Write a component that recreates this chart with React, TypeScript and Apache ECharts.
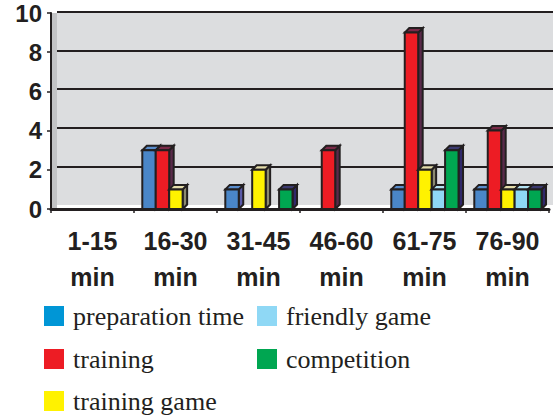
import { useEffect, useRef } from "react";
import * as echarts from "echarts";

// Time windows on the x axis
const categories = ["1-15\nmin", "16-30\nmin", "31-45\nmin", "46-60\nmin", "61-75\nmin", "76-90\nmin"];

// Series names, in bar order within a group
const seriesNames = ["preparation time", "training", "training game", "friendly game", "competition"];

// Counts per time window
const preparationTime = [0, 3, 1, 0, 1, 1];
const training = [0, 3, 0, 3, 9, 4];
const trainingGame = [0, 1, 2, 0, 2, 1];
const friendlyGame = [0, 0, 0, 0, 1, 1];
const competition = [0, 0, 1, 0, 3, 1];

const seriesValues = [preparationTime, training, trainingGame, friendlyGame, competition];

// Y axis range
const yMin = 0;
const yMax = 10;
const yStep = 2;

// Bar faces: front, top, right side
const faces = [
  { front: "#4a86c8", top: "#5a8dcc", side: "#5a5aa8" },
  { front: "#ed1c24", top: "#7a2a48", side: "#5a2a4a" },
  { front: "#fff200", top: "#e4dcaa", side: "#8c8a70" },
  { front: "#8fd8f5", top: "#b4e2f2", side: "#6a96b0" },
  { front: "#00a651", top: "#3c3a70", side: "#30286a" },
];

// Legend swatch colours
const legendColors = ["#0096d6", "#ed1c24", "#fff200", "#8fd8f5", "#00a651"];

// Legend slots: two columns, filled top to bottom
const legendSlots = [
  { left: 44, top: 303 },
  { left: 44, top: 346 },
  { left: 44, top: 388 },
  { left: 257, top: 303 },
  { left: 257, top: 346 },
];

const ink = "#231f20";

function makeRender(slot: number) {
  const f = faces[slot];
  return (_params: any, api: any) => {
    const idx = api.value(0);
    const v = api.value(1);
    if (!v) return null;
    const w = api.size([1, 0])[0];
    const base = api.coord([idx, 0]);
    const topPt = api.coord([idx, v]);
    const cx = base[0];
    const y0 = base[1];
    const y1 = topPt[1];
    const s = w * 0.162;
    const x = cx - w * 0.4 + slot * s;
    const d = 4.5;
    const stroke = { stroke: ink, lineWidth: 2, lineJoin: "miter" };
    return {
      type: "group",
      children: [
        {
          type: "polygon",
          shape: { points: [[x + s, y1], [x + s + d, y1 - d], [x + s + d, y0 - d], [x + s, y0]] },
          style: { fill: f.side, ...stroke },
        },
        {
          type: "polygon",
          shape: { points: [[x, y1], [x + d, y1 - d], [x + s + d, y1 - d], [x + s, y1]] },
          style: { fill: f.top, ...stroke },
        },
        {
          type: "rect",
          shape: { x, y: y1, width: s, height: y0 - y1 },
          style: { fill: f.front, ...stroke },
        },
      ],
    };
  };
}

export default function App() {
  const ref = useRef<HTMLDivElement>(null);

  useEffect(() => {
    if (!ref.current) return;
    const chart = echarts.init(ref.current, undefined, { renderer: "svg" });

    const legendText = {
      fontFamily: "Liberation Serif",
      fontSize: 26,
      color: ink,
      lineHeight: 26,
      padding: [0, 0, 0, 4],
    };

    chart.setOption({
      animation: false,
      backgroundColor: "#ffffff",
      grid: [
        { left: 51, right: 10, top: 13, bottom: 209, containLabel: false },
        {
          left: 57,
          right: 6,
          top: 12,
          bottom: 213,
          show: true,
          backgroundColor: "#dcdddf",
          borderWidth: 0,
          z: 0,
        },
      ],
      xAxis: [
        {
          type: "category",
          gridIndex: 0,
          data: categories,
          boundaryGap: true,
          axisLine: { show: true, lineStyle: { color: ink, width: 3 } },
          axisTick: { show: true, length: 4, lineStyle: { color: ink, width: 1.5 } },
          axisLabel: {
            interval: 0,
            margin: 14,
            fontFamily: "Liberation Sans",
            fontWeight: "bold",
            fontSize: 25,
            lineHeight: 36,
            color: ink,
          },
          splitLine: { show: false },
          z: 5,
        },
        {
          type: "category",
          gridIndex: 1,
          data: categories,
          show: false,
        },
      ],
      yAxis: [
        {
          type: "value",
          gridIndex: 0,
          min: yMin,
          max: yMax,
          interval: yStep,
          axisLine: { show: true, lineStyle: { color: ink, width: 2 } },
          axisTick: { show: true, length: 4, lineStyle: { color: ink, width: 1.5 } },
          axisLabel: {
            margin: 9,
            fontFamily: "Liberation Sans",
            fontWeight: "bold",
            fontSize: 24,
            color: ink,
            padding: [5, 0, 0, 0],
          },
          splitLine: { show: false },
          z: 5,
        },
        {
          type: "value",
          gridIndex: 1,
          min: yMin,
          max: yMax,
          interval: yStep,
          axisLine: { show: false },
          axisTick: { show: false },
          axisLabel: { show: false },
          splitLine: { show: true, showMinLine: false, lineStyle: { color: ink, width: 2 } },
        },
      ],
      legend: seriesNames.map((name, i) => ({
        orient: "horizontal",
        left: legendSlots[i].left,
        top: legendSlots[i].top,
        padding: 0,
        itemWidth: 20,
        itemHeight: 20,
        icon: "rect",
        selectedMode: false,
        data: [{ name, itemStyle: { color: legendColors[i] } }],
        textStyle: legendText,
      })),
      graphic: [
        {
          type: "rect",
          left: 52,
          top: 13,
          shape: { width: 5, height: 195 },
          style: { fill: "#c2c3c5" },
          z: 1,
        },
      ],
      series: seriesValues.map((vals, i) => ({
        type: "custom",
        name: seriesNames[i],
        xAxisIndex: 0,
        yAxisIndex: 0,
        itemStyle: { color: legendColors[i] },
        data: vals.map((v, j) => [j, v]),
        encode: { x: 0, y: 1 },
        renderItem: makeRender(i),
        z: 3,
      })),
    });

    return () => chart.dispose();
  }, []);

  return <div ref={ref} style={{ width: 559, height: 418, position: "absolute", left: 0, top: 0 }} />;
}
